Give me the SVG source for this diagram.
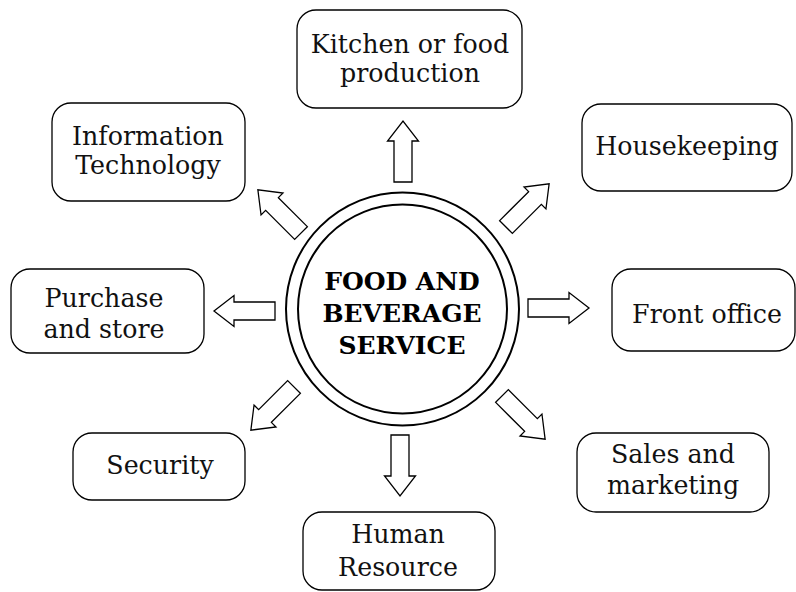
<svg xmlns="http://www.w3.org/2000/svg" xmlns:xlink="http://www.w3.org/1999/xlink" width="796" height="592" viewBox="0 0 796 592">
<style>
.box{fill:#fff;stroke:#000;stroke-width:1.3}
.lbl{font-family:"DejaVu Serif","Liberation Serif",serif;font-size:25.3px;fill:#111;text-anchor:middle}
.title{font-family:"DejaVu Serif","Liberation Serif",serif;font-size:25px;font-weight:bold;fill:#000;text-anchor:middle}
.ring{fill:none;stroke:#000;stroke-width:2}
.arr{fill:#fff;stroke:#000;stroke-width:1.3;stroke-linejoin:miter}
</style>
<defs>
<path id="barrow" d="M0,-9 H41 V-15.5 L61,0 L41,15.5 V9 H0 Z"/>
</defs>
<rect width="796" height="592" fill="#fff"/>
<g id="connectors">
<use xlink:href="#barrow" class="arr" transform="translate(403,182) rotate(-90)"/>
<use xlink:href="#barrow" class="arr" transform="translate(301,233) rotate(-135)"/>
<use xlink:href="#barrow" class="arr" transform="translate(506,227) rotate(-45)"/>
<use xlink:href="#barrow" class="arr" transform="translate(528,308)"/>
<use xlink:href="#barrow" class="arr" transform="translate(275,311) rotate(180)"/>
<use xlink:href="#barrow" class="arr" transform="translate(294,387) rotate(135)"/>
<use xlink:href="#barrow" class="arr" transform="translate(400,435) rotate(90)"/>
<use xlink:href="#barrow" class="arr" transform="translate(502,396) rotate(45)"/>
</g>
<g id="center">
<circle class="ring" cx="402.5" cy="309" r="116.5"/>
<circle class="ring" cx="402.5" cy="309" r="104.5"/>
<text class="title" x="402" y="290">FOOD AND</text>
<text class="title" x="402" y="322">BEVERAGE</text>
<text class="title" x="402" y="354">SERVICE</text>
</g>
<g id="kitchen">
<rect class="box" x="297" y="10" width="225" height="98" rx="19"/>
<text class="lbl" x="410" y="53">Kitchen or food</text>
<text class="lbl" x="410" y="82">production</text>
</g>
<g id="it">
<rect class="box" x="52" y="103" width="193" height="98" rx="19"/>
<text class="lbl" x="148" y="145">Information</text>
<text class="lbl" x="148" y="174">Technology</text>
</g>
<g id="housekeeping">
<rect class="box" x="582" y="104" width="210" height="87" rx="19"/>
<text class="lbl" x="687" y="155">Housekeeping</text>
</g>
<g id="purchase">
<rect class="box" x="11" y="269" width="193" height="84" rx="19"/>
<text class="lbl" x="104" y="307">Purchase</text>
<text class="lbl" x="104" y="338">and store</text>
</g>
<g id="frontoffice">
<rect class="box" x="612" y="269" width="183" height="82" rx="19"/>
<text class="lbl" x="707" y="323">Front office</text>
</g>
<g id="security">
<rect class="box" x="73" y="433" width="172" height="67" rx="19"/>
<text class="lbl" x="160" y="474">Security</text>
</g>
<g id="sales">
<rect class="box" x="577" y="433" width="192" height="79" rx="19"/>
<text class="lbl" x="673" y="463">Sales and</text>
<text class="lbl" x="673" y="494">marketing</text>
</g>
<g id="hr">
<rect class="box" x="303" y="512" width="192" height="78" rx="19"/>
<text class="lbl" x="398" y="543">Human</text>
<text class="lbl" x="398" y="576">Resource</text>
</g>
</svg>
